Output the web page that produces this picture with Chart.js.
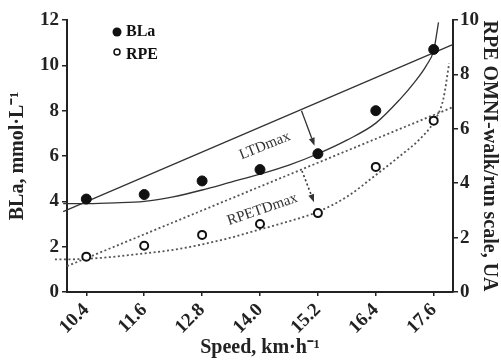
<!DOCTYPE html>
<html>
<head>
<meta charset="utf-8">
<script src="https://cdn.jsdelivr.net/npm/chart.js@4/dist/chart.umd.min.js"></script>
<style>
  html, body { margin: 0; padding: 0; background: #fff; }
  #wrap { width: 501px; height: 360px; }
</style>
</head>
<body>
<div id="wrap"><canvas id="chart"></canvas></div>
<script>
// stage speeds, km/h
const speeds = [10.4, 11.6, 12.8, 14.0, 15.2, 16.4, 17.6];
const bla = [4.1, 4.3, 4.9, 5.4, 6.1, 8.0, 10.7];
const rpe = [1.3, 1.7, 2.1, 2.5, 2.9, 4.6, 6.3];

// fitted BLa curve and the first-to-last straight line
const blaCurveX = [9.92, 10.4, 11.0, 11.6, 12.2, 12.8, 13.4, 14.0, 14.6, 15.2, 15.8, 16.4, 16.9, 17.2, 17.45, 17.6, 17.7];
const blaCurveY = [3.9, 3.9, 3.93, 4.0, 4.2, 4.5, 4.85, 5.2, 5.6, 6.1, 6.7, 7.45, 8.5, 9.25, 10.0, 10.66, 11.9];
const blaLineX = [9.92, 17.98];
const blaLineY = [3.55, 10.9];

// fitted RPE curve and its straight line
const rpeCurveX = [9.75, 10.0, 10.4, 11.0, 11.6, 12.2, 12.8, 13.4, 14.0, 14.6, 15.2, 15.8, 16.4, 16.9, 17.3, 17.6, 17.8, 17.92];
const rpeCurveY = [1.2, 1.2, 1.22, 1.3, 1.42, 1.55, 1.75, 2.0, 2.3, 2.6, 2.95, 3.5, 4.3, 5.0, 5.6, 6.25, 7.1, 8.4];
const rpeLineX = [10.0, 18.0];
const rpeLineY = [0.95, 6.8];

const xTicks = [10.4, 11.6, 12.8, 14.0, 15.2, 16.4, 17.6];

// Dmax arrows: [speed, value] from straight line down to the curve
const ltdArrow = [[14.86, 8.0], [15.13, 6.45]];
const rpeArrow = [[14.87, 4.45], [15.12, 3.3]];

const serif = '"Liberation Serif", "Times New Roman", serif';
const ink = '#222';

const pts = (xs, ys) => xs.map((x, i) => ({ x, y: ys[i] }));

function arrow(ctx, x0, y0, x1, y1, dash) {
  const ang = Math.atan2(y1 - y0, x1 - x0);
  const head = 8;
  ctx.save();
  ctx.strokeStyle = '#333';
  ctx.fillStyle = '#333';
  ctx.lineWidth = dash ? 1.6 : 1.3;
  ctx.setLineDash(dash ? [2, 2.5] : []);
  ctx.beginPath();
  ctx.moveTo(x0, y0);
  ctx.lineTo(x1 - Math.cos(ang) * head, y1 - Math.sin(ang) * head);
  ctx.stroke();
  ctx.setLineDash([]);
  ctx.beginPath();
  ctx.moveTo(x1, y1);
  ctx.lineTo(x1 - head * Math.cos(ang) + 3 * Math.sin(ang), y1 - head * Math.sin(ang) - 3 * Math.cos(ang));
  ctx.lineTo(x1 - head * Math.cos(ang) - 3 * Math.sin(ang), y1 - head * Math.sin(ang) + 3 * Math.cos(ang));
  ctx.closePath();
  ctx.fill();
  ctx.restore();
}

function label(ctx, text, x, y, deg) {
  ctx.save();
  ctx.translate(x, y);
  ctx.rotate(deg * Math.PI / 180);
  ctx.font = '15px ' + serif;
  ctx.fillStyle = '#333';
  ctx.textAlign = 'center';
  ctx.textBaseline = 'middle';
  ctx.fillText(text, 0, 0);
  ctx.restore();
}

const extras = {
  id: 'extras',
  afterDatasetsDraw(chart) {
    const { ctx, scales: { x, y, y1 } } = chart;
    arrow(ctx, x.getPixelForValue(ltdArrow[0][0]), y.getPixelForValue(ltdArrow[0][1]),
      x.getPixelForValue(ltdArrow[1][0]), y.getPixelForValue(ltdArrow[1][1]), false);
    arrow(ctx, x.getPixelForValue(rpeArrow[0][0]), y1.getPixelForValue(rpeArrow[0][1]),
      x.getPixelForValue(rpeArrow[1][0]), y1.getPixelForValue(rpeArrow[1][1]), true);
    label(ctx, 'LTDmax', x.getPixelForValue(14.1), y.getPixelForValue(6.45), -22);
    label(ctx, 'RPETDmax', x.getPixelForValue(14.05), y1.getPixelForValue(3.03), -19);

    // legend
    ctx.save();
    ctx.fillStyle = '#111';
    ctx.beginPath();
    ctx.arc(117, 32, 4.5, 0, Math.PI * 2);
    ctx.fill();
    ctx.strokeStyle = '#111';
    ctx.lineWidth = 1.5;
    ctx.beginPath();
    ctx.arc(117, 52, 3, 0, Math.PI * 2);
    ctx.stroke();
    ctx.font = 'bold 16px ' + serif;
    ctx.textBaseline = 'middle';
    ctx.fillText('BLa', 126, 32);
    ctx.fillText('RPE', 126, 55);
    ctx.restore();
  }
};

const tickFont = { family: serif, size: 19, weight: 'bold' };
const titleFont = { family: serif, size: 20, weight: 'bold' };

new Chart(document.getElementById('chart'), {
  type: 'scatter',
  data: {
    datasets: [
      {
        label: 'BLa',
        data: pts(speeds, bla),
        yAxisID: 'y',
        pointRadius: 5,
        pointBackgroundColor: '#111',
        pointBorderColor: '#111',
        showLine: false,
      },
      {
        label: 'RPE',
        data: pts(speeds, rpe),
        yAxisID: 'y1',
        pointRadius: 4,
        pointBackgroundColor: '#fff',
        pointBorderColor: '#111',
        pointBorderWidth: 2,
        showLine: false,
      },
      {
        data: pts(blaCurveX, blaCurveY),
        yAxisID: 'y',
        showLine: true,
        pointRadius: 0,
        borderColor: '#333',
        borderWidth: 1.3,
        cubicInterpolationMode: 'monotone',
        clip: false,
      },
      {
        data: pts(blaLineX, blaLineY),
        yAxisID: 'y',
        showLine: true,
        pointRadius: 0,
        borderColor: '#333',
        borderWidth: 1.3,
        clip: false,
      },
      {
        data: pts(rpeCurveX, rpeCurveY),
        yAxisID: 'y1',
        showLine: true,
        pointRadius: 0,
        borderColor: '#555',
        borderWidth: 1.8,
        borderDash: [2, 2.5],
        cubicInterpolationMode: 'monotone',
        clip: false,
      },
      {
        data: pts(rpeLineX, rpeLineY),
        yAxisID: 'y1',
        showLine: true,
        pointRadius: 0,
        borderColor: '#555',
        borderWidth: 1.8,
        borderDash: [2, 2.5],
        clip: false,
      },
    ],
  },
  options: {
    responsive: true,
    maintainAspectRatio: false,
    animation: false,
    layout: { padding: { top: 20, right: 0, bottom: 0, left: 0 } },
    plugins: {
      legend: { display: false },
      tooltip: { enabled: false },
    },
    scales: {
      x: {
        type: 'linear',
        min: 10,
        max: 18,
        afterBuildTicks: (s) => { s.ticks = xTicks.map((v) => ({ value: v })); },
        afterFit: (s) => { s.height = 68; },
        ticks: {
          autoSkip: false,
          minRotation: 45,
          maxRotation: 45,
          padding: 3,
          color: ink,
          font: tickFont,
          callback: (v) => Number(v).toFixed(1),
        },
        grid: { drawOnChartArea: false, drawTicks: true, tickLength: 4, color: ink, lineWidth: 1.5 },
        border: { color: ink, width: 2 },
        title: { display: true, text: 'Speed, km·h⁻¹', color: ink, font: titleFont, padding: { top: 0, bottom: 0 } },
      },
      y: {
        position: 'left',
        min: 0,
        max: 12,
        afterFit: (s) => { s.width = 67; },
        ticks: { stepSize: 2, padding: 3, color: ink, font: tickFont },
        grid: { drawOnChartArea: false, drawTicks: true, tickLength: 5, color: ink, lineWidth: 1.5 },
        border: { color: ink, width: 2 },
        title: { display: true, text: 'BLa, mmol·L⁻¹', color: ink, font: titleFont, padding: { top: 6, bottom: 0 } },
      },
      y1: {
        position: 'right',
        min: 0,
        max: 10,
        afterFit: (s) => { s.width = 48; },
        ticks: { stepSize: 2, padding: 2, color: ink, font: tickFont },
        grid: { drawOnChartArea: false, drawTicks: true, tickLength: 5, color: ink, lineWidth: 1.5 },
        border: { color: ink, width: 2 },
        title: { display: true, text: 'RPE OMNI-walk/run scale, UA', color: ink, font: titleFont, padding: { top: 0, bottom: 0 } },
      },
    },
  },
  plugins: [extras],
});
</script>
</body>
</html>
